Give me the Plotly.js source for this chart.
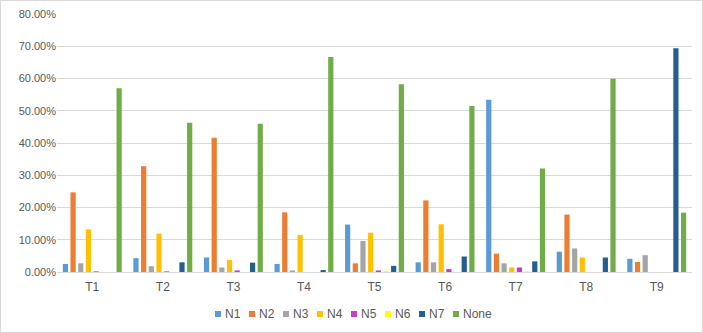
<!DOCTYPE html>
<html>
<head>
<meta charset="utf-8">
<script src="https://cdn.plot.ly/plotly-3.0.1.min.js"></script>
<style>
html,body{margin:0;padding:0;background:#fff;}
#chart{width:701px;height:331px;border:1px solid #d9d9d9;}
</style>
</head>
<body>
<div id="chart"></div>
<script>
const categories = ["T1","T2","T3","T4","T5","T6","T7","T8","T9"];
const seriesNames = ["N1","N2","N3","N4","N5","N6","N7","None"];
const N1   = [2.5, 4.3, 4.5, 2.5, 14.7, 3.0, 53.4, 6.3, 4.1];
const N2   = [24.7, 32.8, 41.6, 18.5, 2.7, 22.2, 5.7, 17.8, 3.1];
const N3   = [2.7, 1.8, 1.4, 0.5, 9.6, 3.0, 2.7, 7.3, 5.2];
const N4   = [13.2, 11.9, 3.7, 11.5, 12.2, 14.8, 1.4, 4.5, 0];
const N5   = [0.2, 0.2, 0.5, 0, 0.5, 0.9, 1.4, 0, 0];
const N6   = [0, 0, 0, 0, 0.4, 0, 0.2, 0, 0];
const N7   = [0, 3.0, 2.9, 0.6, 1.9, 4.8, 3.3, 4.5, 69.4];
const None = [57.0, 46.3, 46.0, 66.7, 58.2, 51.5, 32.1, 59.9, 18.4];
const yTicks = [0,10,20,30,40,50,60,70,80];

const values = [N1, N2, N3, N4, N5, N6, N7, None];
const colors = ["#5B9BD5","#ED7D31","#A5A5A5","#FFC000","#CC3ACC","#FFFF00","#255E91","#70AD47"];

const data = seriesNames.map((n, i) => ({
  type: "bar",
  name: n,
  x: categories,
  y: values[i],
  marker: {color: colors[i]},
  hoverinfo: "x+y+name"
}));

// custom compact legend (Excel style) in pixel space
const W = 701, H = 331, mL = 56, mR = 10, mT = 13, mB = 60;
const pw = W - mL - mR, ph = H - mT - mB;
const px2x = p => (p - mL) / pw;
const py2y = p => (H - mB - p) / ph;
const legendY = 313;
const shapes = [], annotations = [];
let cx = 214;
seriesNames.forEach((n, i) => {
  shapes.push({type: "rect", xref: "paper", yref: "paper",
    x0: px2x(cx), x1: px2x(cx + 6), y0: py2y(legendY + 3), y1: py2y(legendY - 3),
    fillcolor: colors[i], line: {width: 0}});
  annotations.push({xref: "paper", yref: "paper", x: px2x(cx + 8), y: py2y(legendY),
    xanchor: "left", yanchor: "middle", showarrow: false, text: n,
    font: {size: 12, color: "#595959"}});
  const tw = n.length === 2 ? 16 : 29;
  cx += 6 + 2 + tw + 10;
});

const layout = {
  width: W, height: H,
  margin: {l: mL, r: mR, t: mT, b: mB},
  paper_bgcolor: "#fff", plot_bgcolor: "#fff",
  font: {family: "Liberation Sans, Arial, sans-serif", color: "#595959", size: 11},
  barmode: "group",
  bargap: 0.13,
  bargroupgap: 0.32,
  showlegend: false,
  shapes: shapes,
  annotations: annotations,
  xaxis: {
    type: "category",
    showgrid: false,
    showline: true, linecolor: "#d9d9d9", linewidth: 1,
    ticks: "", ticklabelstandoff: 4, tickfont: {size: 12, color: "#595959"}
  },
  yaxis: {
    range: [0, 80],
    tickvals: yTicks,
    ticktext: yTicks.map(v => v.toFixed(2) + "%"),
    showgrid: true, gridcolor: "#d9d9d9", gridwidth: 1,
    zeroline: false, showline: false, ticks: "",
    tickfont: {size: 11, color: "#595959"}
  }
};

Plotly.newPlot("chart", data, layout, {displayModeBar: false, staticPlot: true});
</script>
</body>
</html>
